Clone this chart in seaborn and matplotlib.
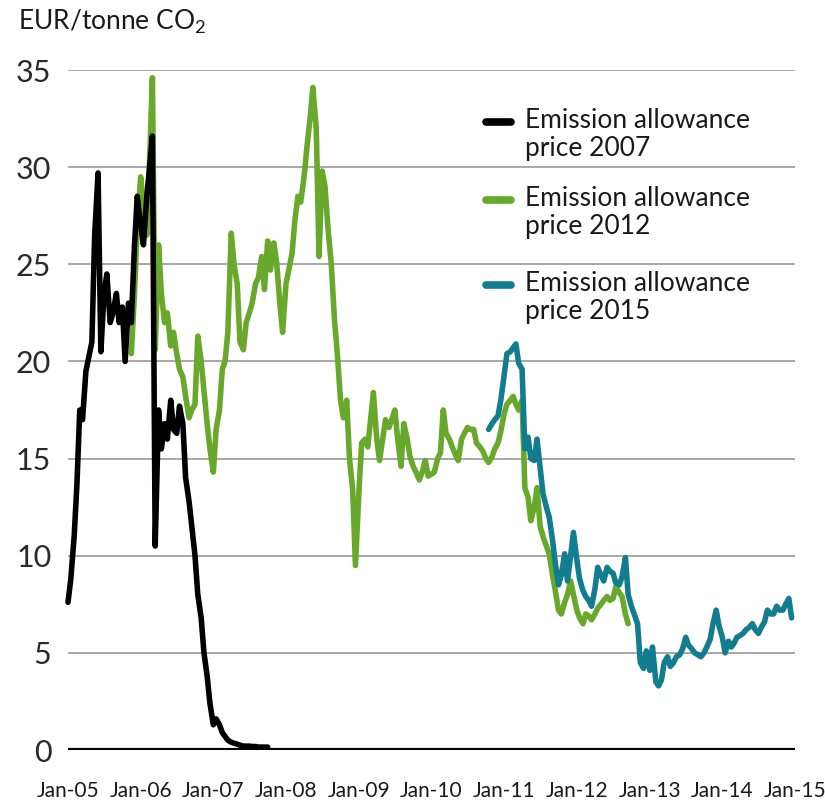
"""EU emission allowance prices 2005-2015 (EUR/tonne CO2)."""

import matplotlib

matplotlib.use("Agg")

import matplotlib.dates as mdates
import matplotlib.pyplot as plt
import pandas as pd
import seaborn as sns
from matplotlib.lines import Line2D

# semi-monthly readings (1st / 15th of each month)
BLACK_START = "2005-01-01"
black_prices = [
    7.6, 8.8, 11.0, 13.7, 17.5, 17.0, 19.5, 20.2, 21.0, 26.5,
    29.7, 20.5, 23.5, 24.5, 22.0, 22.5, 23.5, 22.0, 22.8, 20.0,
    23.0, 22.0, 26.0, 28.5, 27.0, 26.0, 28.5, 30.0, 31.6, 10.5,
    17.5, 15.5, 16.8, 16.0, 18.0, 16.5, 16.3, 17.7, 16.8, 14.0,
    12.8, 11.5, 10.0, 8.0, 6.8, 5.0, 3.8, 2.4, 1.3, 1.6,
    1.3, 0.9, 0.7, 0.5, 0.4, 0.35, 0.3, 0.25, 0.2, 0.2,
    0.2, 0.18, 0.18, 0.15, 0.15, 0.15, 0.15,
]

GREEN_START = "2005-11-15"
green_prices = [
    20.4, 23.5, 27.0, 29.5, 28.0, 26.5, 30.4, 34.6, 20.6, 26.0,
    23.5, 22.0, 22.5, 20.8, 21.5, 20.4, 19.6, 19.2, 18.2, 17.1,
    17.5, 17.8, 21.3, 20.0, 18.5, 16.8, 15.5, 14.3, 16.5, 17.5,
    19.6, 20.0, 21.5, 26.6, 25.0, 24.0, 21.0, 20.6, 22.0, 22.5,
    23.0, 24.0, 24.3, 25.4, 23.7, 26.2, 24.7, 26.1, 25.1, 23.0,
    21.5, 24.0, 24.7, 25.6, 27.3, 28.5, 28.2, 29.5, 31.0, 32.5,
    34.1, 32.0, 25.4, 29.8, 29.0, 26.6, 25.1, 22.1, 20.4, 18.0,
    17.1, 18.0, 15.0, 13.4, 9.5, 13.2, 15.8, 16.0, 15.6, 17.0,
    18.4, 16.0, 14.9, 16.0, 17.0, 16.6, 17.0, 17.5, 16.0, 14.6,
    16.8, 16.0, 15.1, 14.6, 14.3, 13.9, 14.3, 14.9, 14.1, 14.2,
    14.3, 15.0, 15.3, 17.5, 16.3, 16.0, 15.6, 15.2, 14.9, 16.0,
    16.3, 16.6, 16.5, 16.5, 15.8, 15.6, 15.4, 15.0, 14.8, 15.1,
    15.5, 15.8, 16.4, 17.3, 17.8, 18.0, 18.2, 17.8, 17.5, 18.0,
    13.5, 13.0, 11.8, 12.5, 13.5, 11.5, 11.0, 10.5, 10.1, 9.0,
    8.2, 7.2, 7.0, 7.6, 8.0, 8.7, 8.0, 7.2, 6.8, 6.5,
    7.0, 6.9, 6.7, 7.0, 7.3, 7.5, 7.7, 7.9, 7.7, 7.8,
    8.4, 8.1, 7.9, 7.0, 6.5,
]

TEAL_START = "2010-10-15"
teal_prices = [
    16.5, 16.8, 17.0, 17.2, 18.0, 19.3, 20.4, 20.5, 20.7, 20.9,
    19.9, 19.6, 15.5, 16.1, 15.0, 14.9, 16.0, 14.5, 13.2, 12.5,
    12.0, 10.8, 9.6, 8.5, 9.0, 10.1, 8.7, 10.0, 11.2, 9.8,
    8.8, 8.2, 7.9, 7.7, 7.4, 8.3, 9.4, 9.0, 8.7, 9.4,
    9.2, 9.1, 8.6, 8.5, 8.9, 9.9, 8.0, 7.4, 7.0, 6.5,
    4.5, 4.2, 5.1, 4.1, 5.3, 3.5, 3.3, 3.6, 4.5, 4.8,
    4.3, 4.5, 4.8, 4.9, 5.2, 5.8, 5.4, 5.2, 5.0, 4.9,
    4.8, 5.0, 5.3, 5.7, 6.5, 7.2, 6.4, 5.8, 5.0, 5.6,
    5.3, 5.5, 5.8, 5.9, 6.0, 6.2, 6.3, 6.5, 6.2, 6.0,
    6.3, 6.6, 7.2, 7.0, 7.0, 7.4, 7.2, 7.2, 7.5, 7.8,
    6.8,
]

labels = [
    "Emission allowance\nprice 2007",
    "Emission allowance\nprice 2012",
    "Emission allowance\nprice 2015",
]
colors = ["#000000", "#68a82a", "#117d8e"]


def series(start, values):
    dates = pd.date_range(start, periods=len(values), freq="SMS")
    return pd.DataFrame({"date": dates, "price": values})


sns.set_theme(style="white")
plt.rcParams["font.family"] = ["Lato", "DejaVu Sans"]
plt.rcParams["mathtext.fontset"] = "custom"
plt.rcParams["mathtext.rm"] = "Lato"

W, H = 825, 801
fig = plt.figure(figsize=(W / 100, H / 100), dpi=100)
ax = fig.add_axes([68 / W, 1 - 750 / H, 727 / W, 680 / H])

frames = [
    series(BLACK_START, black_prices),
    series(GREEN_START, green_prices),
    series(TEAL_START, teal_prices),
]
# green first, then teal, black on top
for idx in [1, 2, 0]:
    sns.lineplot(
        data=frames[idx], x="date", y="price", color=colors[idx], linewidth=4,
        ax=ax, clip_on=False, legend=False,
    )

ax.set_xlim(pd.Timestamp("2005-01-01"), pd.Timestamp("2015-01-01"))
ax.set_ylim(0, 35)
ax.set_yticks(range(0, 36, 5))
ax.xaxis.set_major_locator(mdates.YearLocator())
ax.xaxis.set_major_formatter(mdates.DateFormatter("%b-%y"))
ax.grid(axis="y", color="#a0a0a0", linewidth=1.3)
ax.axhline(0, color="black", linewidth=3, zorder=1)
for side in ["top", "right", "left", "bottom"]:
    ax.spines[side].set_visible(False)
ax.tick_params(axis="y", length=0, pad=12, labelsize=22, labelcolor="#2a2a2a")
ax.tick_params(axis="x", length=0, pad=22, labelsize=15, labelcolor="#1a1a1a")
ax.set_xlabel("")
ax.set_ylabel("")

fig.text(18 / W, 1 - 22 / H, r"EUR/tonne $\mathregular{CO_2}$", fontsize=19,
         color="#1a1a1a", va="center", ha="left")

# legend: short thick stroke next to the first line of each two-line label
for i, (lab, col) in enumerate(zip(labels, colors)):
    y_px = [122, 200, 285][i]
    fig.add_artist(Line2D([486 / W, 511 / W], [1 - y_px / H] * 2, color=col,
                          linewidth=5.5, solid_capstyle="round",
                          transform=fig.transFigure))
    fig.text(525 / W, 1 - (y_px - 14) / H, lab, fontsize=19, color="#1a1a1a",
             va="top", ha="left", linespacing=1.15)

fig.savefig("out.png", dpi=100)
